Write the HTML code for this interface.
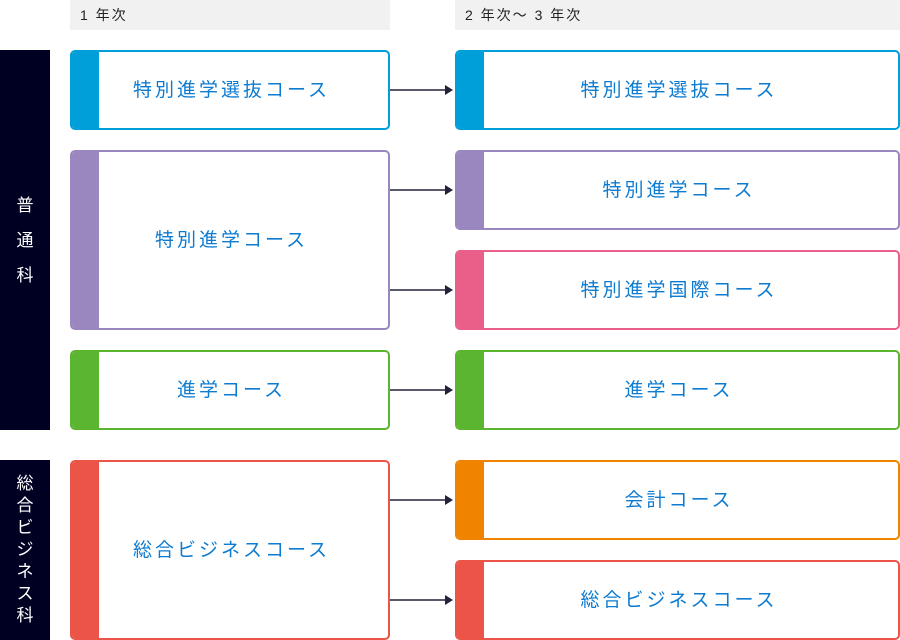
<!DOCTYPE html>
<html><head><meta charset="utf-8"><style>
body{margin:0;width:900px;height:640px;background:#fff;position:relative;overflow:hidden;font-family:"Liberation Sans","Noto Sans CJK JP",sans-serif}
.h{position:absolute;top:0;height:30px;background:#f1f1f1;font-size:14px;color:#222;line-height:30px;padding-left:10px;letter-spacing:2px;box-sizing:border-box}
.side{position:absolute;left:0;width:50px;background:#000022;color:#fff;font-size:17px;display:flex;flex-direction:column;align-items:center;justify-content:center;line-height:1.55}
.b{position:absolute;box-sizing:border-box;border:2px solid;border-radius:5px;background:#fff;overflow:hidden;display:flex;align-items:center;justify-content:center;color:#0d7bd0;font-size:19px;letter-spacing:3px;padding-bottom:4px}
.b::before{content:"";position:absolute;left:0;top:0;bottom:0;width:27px;background:var(--c)}
.b span{position:relative;padding-left:3px}
.L{left:70px;width:320px}.R{left:455px;width:445px}
</style></head><body>
<div class="h" style="left:70px;width:320px">1 年次</div>
<div class="h" style="left:455px;width:445px">2 年次〜 3 年次</div>
<div class="side" style="top:50px;height:380px;line-height:35px"><div>普</div><div>通</div><div>科</div></div>
<div class="side" style="top:460px;height:180px;line-height:22px"><div>総</div><div>合</div><div>ビ</div><div>ジ</div><div>ネ</div><div>ス</div><div>科</div></div>

<div class="b L" style="top:50px;height:80px;border-color:#009fd9;--c:#009fd9"><span>特別進学選抜コース</span></div>
<div class="b L" style="top:150px;height:180px;border-color:#9a87bf;--c:#9a87bf"><span>特別進学コース</span></div>
<div class="b L" style="top:350px;height:80px;border-color:#5cb531;--c:#5cb531"><span>進学コース</span></div>
<div class="b L" style="top:460px;height:180px;border-color:#ea5548;--c:#ea5548"><span>総合ビジネスコース</span></div>

<div class="b R" style="top:50px;height:80px;border-color:#009fd9;--c:#009fd9"><span>特別進学選抜コース</span></div>
<div class="b R" style="top:150px;height:80px;border-color:#9a87bf;--c:#9a87bf"><span>特別進学コース</span></div>
<div class="b R" style="top:250px;height:80px;border-color:#e95f8a;--c:#e95f8a"><span>特別進学国際コース</span></div>
<div class="b R" style="top:350px;height:80px;border-color:#5cb531;--c:#5cb531"><span>進学コース</span></div>
<div class="b R" style="top:460px;height:80px;border-color:#f08300;--c:#f08300"><span>会計コース</span></div>
<div class="b R" style="top:560px;height:80px;border-color:#ea5548;--c:#ea5548"><span>総合ビジネスコース</span></div>

<svg width="900" height="640" style="position:absolute;left:0;top:0">
<g stroke="#22223a" stroke-width="1.5" fill="#22223a">
<line x1="390" y1="90" x2="446" y2="90"/><polygon points="445,85 453,90 445,95" stroke="none"/>
<line x1="390" y1="190" x2="446" y2="190"/><polygon points="445,185 453,190 445,195" stroke="none"/>
<line x1="390" y1="290" x2="446" y2="290"/><polygon points="445,285 453,290 445,295" stroke="none"/>
<line x1="390" y1="390" x2="446" y2="390"/><polygon points="445,385 453,390 445,395" stroke="none"/>
<line x1="390" y1="500" x2="446" y2="500"/><polygon points="445,495 453,500 445,505" stroke="none"/>
<line x1="390" y1="600" x2="446" y2="600"/><polygon points="445,595 453,600 445,605" stroke="none"/>
</g></svg>
</body></html>
